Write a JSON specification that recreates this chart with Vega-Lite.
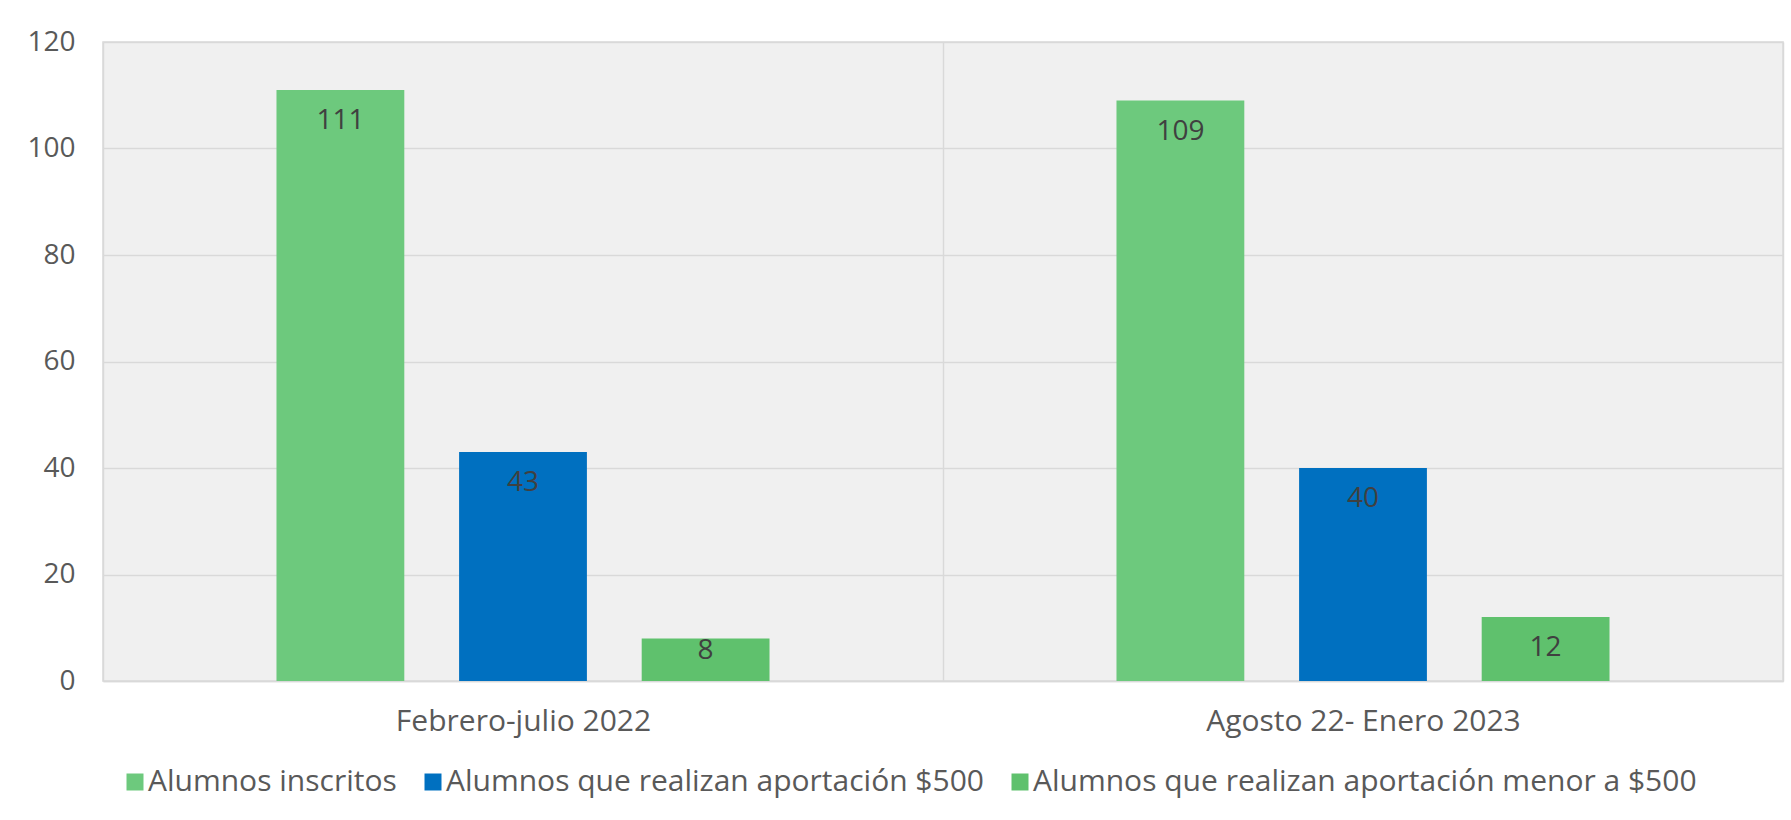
{
  "$schema": "https://vega.github.io/schema/vega-lite/v6.json",
  "width": 1680,
  "height": 639,
  "autosize": {"type": "none"},
  "padding": {"left": 103, "top": 42, "right": 8, "bottom": 139},
  "background": "white",
  "config": {
    "font": "Open Sans",
    "view": {"fill": "#F0F0F0", "stroke": "#D9D9D9", "strokeWidth": 1.5},
    "axis": {
      "labelFont": "Open Sans",
      "labelColor": "#595959",
      "labelFontSize": 28,
      "ticks": false,
      "gridColor": "#D9D9D9",
      "gridWidth": 1.5,
      "domainColor": "#D9D9D9",
      "domainWidth": 1.5
    }
  },
  "data": {
    "values": [
      {"periodo": "Febrero-julio 2022", "serie": "Alumnos inscritos", "valor": 111},
      {"periodo": "Febrero-julio 2022", "serie": "Alumnos que realizan aportación $500", "valor": 43},
      {"periodo": "Febrero-julio 2022", "serie": "Alumnos que realizan aportación menor a $500", "valor": 8},
      {"periodo": "Agosto 22- Enero 2023", "serie": "Alumnos inscritos", "valor": 109},
      {"periodo": "Agosto 22- Enero 2023", "serie": "Alumnos que realizan aportación $500", "valor": 40},
      {"periodo": "Agosto 22- Enero 2023", "serie": "Alumnos que realizan aportación menor a $500", "valor": 12}
    ]
  },
  "encoding": {
    "x": {
      "field": "periodo",
      "type": "nominal",
      "sort": null,
      "scale": {"paddingInner": 0, "paddingOuter": 0},
      "axis": {
        "title": null,
        "labelAngle": 0,
        "tickBand": "extent",
        "grid": true,
        "labelPadding": 25,
        "labelBaseline": "top",
        "labelFontSize": 30,
        "labelLimit": 0
      }
    },
    "xOffset": {
      "field": "serie",
      "type": "nominal",
      "sort": ["Alumnos inscritos", "Alumnos que realizan aportación $500", "Alumnos que realizan aportación menor a $500"],
      "scale": {"paddingInner": 0.3, "paddingOuter": 0.95}
    },
    "y": {
      "field": "valor",
      "type": "quantitative",
      "scale": {"domain": [0, 120]},
      "axis": {
        "title": null,
        "values": [0, 20, 40, 60, 80, 100, 120],
        "domain": false,
        "grid": true,
        "labelPadding": 28
      }
    }
  },
  "layer": [
    {
      "mark": {"type": "bar"},
      "encoding": {
        "color": {
          "field": "serie",
          "type": "nominal",
          "scale": {
            "domain": ["Alumnos inscritos", "Alumnos que realizan aportación $500", "Alumnos que realizan aportación menor a $500"],
            "range": ["#6DC97D", "#0070C0", "#5FC16D"]
          },
          "legend": {
            "title": null,
            "orient": "none",
            "legendX": 17,
            "legendY": 725,
            "direction": "horizontal",
            "symbolType": "square",
            "symbolSize": 289,
            "symbolStrokeWidth": 0,
            "labelFontSize": 30,
            "labelColor": "#595959",
            "labelFont": "Open Sans",
            "columnPadding": 21,
            "labelOffset": -2,
            "labelLimit": 0
          }
        }
      }
    },
    {
      "transform": [{"filter": "datum.valor >= 10"}],
      "mark": {"type": "text", "baseline": "middle", "dy": 31, "fontSize": 28, "color": "#404040", "font": "Open Sans"},
      "encoding": {"text": {"field": "valor", "type": "quantitative"}}
    },
    {
      "transform": [{"filter": "datum.valor < 10"}],
      "mark": {"type": "text", "baseline": "middle", "dy": 13, "fontSize": 28, "color": "#404040", "font": "Open Sans"},
      "encoding": {"text": {"field": "valor", "type": "quantitative"}}
    }
  ]
}
